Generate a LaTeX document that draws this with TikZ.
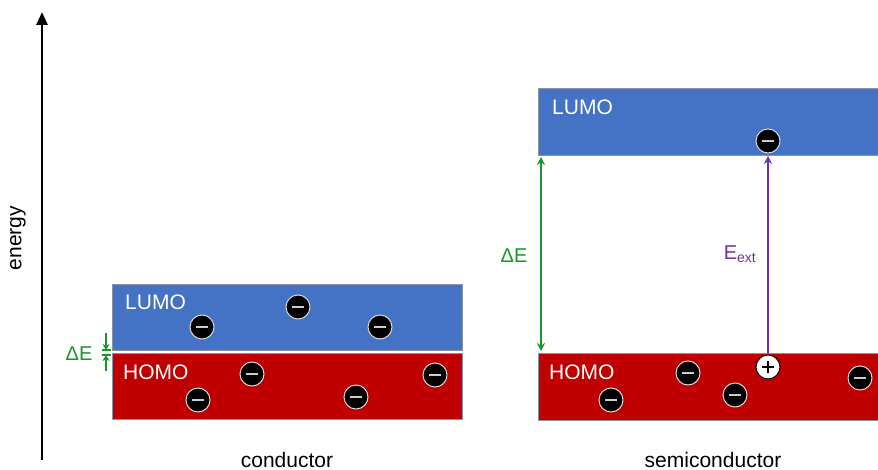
\documentclass[tikz,border=0pt]{standalone}
\usepackage{fontspec}
\setmainfont{Liberation Sans}
\usetikzlibrary{arrows.meta,calc}
\definecolor{lumoblue}{HTML}{4472C4}
\definecolor{homored}{HTML}{C00000}
\definecolor{bandedge}{HTML}{8A94A6}
\definecolor{gapgreen}{HTML}{18962A}
\definecolor{extpurple}{HTML}{7030A0}
\tikzset{
  band/.style={draw=bandedge, line width=0.9pt, anchor=north west, inner sep=0pt},
  lumo/.style={band, fill=lumoblue},
  homo/.style={band, fill=homored},
  bandlabel/.style={text=white, anchor=west, inner sep=0pt, font=\fontsize{21}{24}\selectfont},
  electron/.style={circle, fill=black, draw=white!85!black, line width=1pt, minimum size=24pt, inner sep=0pt,
    path picture={\draw[white!80!black, line width=2.4pt] ([xshift=-6pt]path picture bounding box.center) -- ([xshift=6pt]path picture bounding box.center);}},
  hole/.style={circle, fill=white, draw=black, line width=1pt, minimum size=24pt, inner sep=0pt,
    path picture={\draw[black, line width=2pt] ([xshift=-6pt]path picture bounding box.center) -- ([xshift=6pt]path picture bounding box.center)
      ([yshift=-6pt]path picture bounding box.center) -- ([yshift=6pt]path picture bounding box.center);}},
  caption/.style={font=\fontsize{21}{24}\selectfont, inner sep=0pt, anchor=base},
  gaptext/.style={text=gapgreen, font=\fontsize{20}{24}\selectfont, inner sep=0pt},
}
\begin{document}
\begin{tikzpicture}[x=1pt,y=-1pt]
\useasboundingbox (0,0) rectangle (878,470);
% energy axis
\coordinate (axisbot) at (42,460);
\coordinate (axistop) at (42,12);
\draw[line width=2.8pt, -{Triangle[width=11pt,length=13pt]}] (axisbot) -- (axistop);
\node[font=\fontsize{21}{24}\selectfont, inner sep=0pt, rotate=90] (energy) at (18,238) {energy};

% conductor
\node[lumo, minimum width=350pt, minimum height=66pt] (cl) at (112,284) {};
\node[homo, minimum width=350pt, minimum height=66pt] (ch) at (112,353) {};
\node[bandlabel] (cllab) at (125,302) {LUMO};
\node[bandlabel] (chlab) at (123,372) {HOMO};
\node[electron] (e1) at (202,327) {};
\node[electron] (e2) at (298,307) {};
\node[electron] (e3) at (380,327) {};
\node[electron] (e4) at (252,374) {};
\node[electron] (e5) at (198,400) {};
\node[electron] (e6) at (356,397) {};
\node[electron] (e7) at (435,375) {};
\node[caption] (cond) at (287,467) {conductor};
% small gap
\coordinate (ga) at (106,333);
\coordinate (gb) at (106,350);
\coordinate (gc) at (106,371);
\coordinate (gd) at (106,355);
\draw[gapgreen, line width=1.6pt, -{Stealth[length=6pt,width=7pt]}] (ga) -- (gb);
\draw[gapgreen, line width=1.6pt, -{Stealth[length=6pt,width=7pt]}] (gc) -- (gd);
\draw[gapgreen, line width=1.4pt] ([xshift=-4.5pt]gb) -- ([xshift=4.5pt]gb) ([xshift=-4.5pt]gd) -- ([xshift=4.5pt]gd);
\node[gaptext] (cgap) at (79,354) {ΔE};

% semiconductor
\node[lumo, minimum width=345pt, minimum height=67pt] (sl) at (538,88) {};
\node[homo, minimum width=345pt, minimum height=67pt] (sh) at (538,353) {};
\node[bandlabel] (sllab) at (552,107) {LUMO};
\node[bandlabel] (shlab) at (549,372) {HOMO};
\node[electron] (s0) at (768,141) {};
\node[electron] (s1) at (688,373) {};
\node[electron] (s2) at (611,400) {};
\node[electron] (s3) at (735,395) {};
\node[electron] (s4) at (860,378) {};
\node[hole] (h) at (768,367) {};
\node[caption] (semi) at (713,467) {semiconductor};
% band gap arrow
\coordinate (gt) at (541,157);
\coordinate (gbot) at (541,351);
\draw[gapgreen, line width=1.8pt, {Stealth[length=8pt,width=8pt]}-{Stealth[length=8pt,width=8pt]}] (gt) -- (gbot);
\node[gaptext] (sgap) at (514,256) {ΔE};
% external excitation
\coordinate (et) at (768,156);
\draw[extpurple, line width=1.8pt, -{Stealth[length=8pt,width=8pt]}] (h.north) -- (et);
\node[text=extpurple, font=\fontsize{20}{24}\selectfont, inner sep=0pt] (eext) at (740,254) {E\textsubscript{ext}};
\end{tikzpicture}
\end{document}
